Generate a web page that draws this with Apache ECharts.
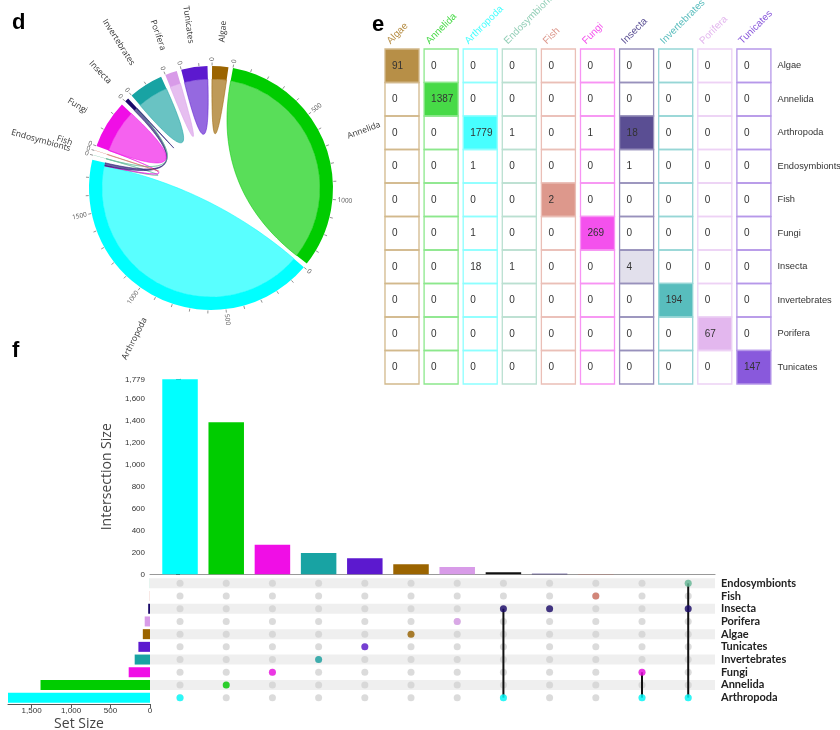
<!DOCTYPE html>
<html><head><meta charset="utf-8">
<script src="https://cdn.jsdelivr.net/npm/echarts@6/dist/echarts.min.js"></script>
<style>html,body{margin:0;padding:0;background:#fff}#c{width:840px;height:730px}</style>
</head><body><div id="c"></div>
<script>
// ---------- DATA ----------
const groups = ['Algae','Annelida','Arthropoda','Endosymbionts','Fish','Fungi','Insecta','Invertebrates','Porifera','Tunicates'];
const matrix = [
  [91,0,0,0,0,0,0,0,0,0],
  [0,1387,0,0,0,0,0,0,0,0],
  [0,0,1779,1,0,1,18,0,0,0],
  [0,0,1,0,0,0,1,0,0,0],
  [0,0,0,0,2,0,0,0,0,0],
  [0,0,1,0,0,269,0,0,0,0],
  [0,0,18,1,0,0,4,0,0,0],
  [0,0,0,0,0,0,0,194,0,0],
  [0,0,0,0,0,0,0,0,67,0],
  [0,0,0,0,0,0,0,0,0,147]
];
const groupColors = ['#9b6400','#00cc00','#00ffff','#66bb99','#d07060','#f00ee6','#1a0a6a','#18a3a3','#d89be8','#5c19cf'];

const upsetSets = ['Endosymbionts','Fish','Insecta','Porifera','Algae','Tunicates','Invertebrates','Fungi','Annelida','Arthropoda'];
const setSizes = [2,2,23,67,91,147,194,270,1387,1799];
const intersections = [['Arthropoda'],['Annelida'],['Fungi'],['Invertebrates'],['Tunicates'],['Algae'],['Porifera'],['Insecta','Arthropoda'],['Insecta'],['Fish'],['Fungi','Arthropoda'],['Endosymbionts','Insecta','Arthropoda']];
const intersectionSizes = [1779,1387,269,194,147,91,67,18,4,2,1,1];
const intersectionTicks = [0,200,400,600,800,1000,1200,1400,1600,1779];
const setSizeTicks = [0,500,1000,1500];

// ---------- HELPERS ----------
function hexRgb(h){const n=parseInt(h.slice(1),16);return [(n>>16)&255,(n>>8)&255,n&255];}
function rgba(h,a){const c=hexRgb(h);return 'rgba('+c[0]+','+c[1]+','+c[2]+','+a+')';}
function blend(h,a){const c=hexRgb(h).map(v=>Math.round(255-(255-v)*a));return 'rgb('+c.join(',')+')';}
const colorOf = name => groupColors[groups.indexOf(name)];
const fmt = v => Number(v).toLocaleString('en-US');

// ---------- CHORD LAYOUT ----------
const CX=211, CY=188, R_IN=109, R_OUT=122, GAP=2.15, START=0.5;
const totals = matrix.map(r=>r.reduce((a,b)=>a+b,0));
const grand = totals.reduce((a,b)=>a+b,0);
const degPerUnit = (360 - GAP*groups.length)/grand;
const gStart=[], gEnd=[];
(function(){let cur=START;groups.forEach((g,i)=>{gStart[i]=cur;cur+=totals[i]*degPerUnit;gEnd[i]=cur;cur+=GAP;});})();
const seg = groups.map(()=>({}));
groups.forEach((g,i)=>{let c=gStart[i];matrix[i].forEach((v,j)=>{if(v>0){seg[i][j]=[c,c+v*degPerUnit];c+=v*degPerUnit;}});});
const links=[];
for(let i=0;i<groups.length;i++)for(let j=i;j<groups.length;j++)if(matrix[i][j]>0)links.push([i,j,matrix[i][j]]);

const toRad = d => d*Math.PI/180;
function pt(th,r){const a=toRad(th-90);return [CX+r*Math.cos(a),CY+r*Math.sin(a)];}
function arcPts(t0,t1,r){const n=Math.max(2,Math.ceil(Math.abs(t1-t0))+1);const o=[];for(let k=0;k<n;k++)o.push(pt(t0+(t1-t0)*k/(n-1),r));return o;}
function quadPts(p0,p2,n){const o=[];for(let k=1;k<=n;k++){const t=k/n,a=(1-t)*(1-t),b=2*(1-t)*t,c=t*t;o.push([a*p0[0]+b*CX+c*p2[0],a*p0[1]+b*CY+c*p2[1]]);}return o;}
function ribbonPoints(i,j){
  const s=seg[i][j];let pts=arcPts(s[0],s[1],R_IN);const first=pts[0];
  if(i===j){pts=pts.concat(quadPts(pts[pts.length-1],first,40));}
  else{const t=seg[j][i];const B=arcPts(t[0],t[1],R_IN);pts=pts.concat(quadPts(pts[pts.length-1],B[0],40));pts=pts.concat(B.slice(1));pts=pts.concat(quadPts(B[B.length-1],first,40));}
  return pts;
}
function radialText(th,r,text,size,color){
  const p=pt(th,r);let t=((th%360)+360)%360;const right=t<180;
  const rot=right?(90-t):(270-t);
  return {type:'text',x:p[0],y:p[1],rotation:toRad(rot),
    style:{text:text,align:right?'left':'right',verticalAlign:'middle',fontSize:size,fontFamily:'Open Sans',fill:color}};
}

// ---------- CHART ----------
const chart = echarts.init(document.getElementById('c'),null,{renderer:'canvas',width:840,height:730});

const matrixData=[];
matrix.forEach((row,r)=>row.forEach((v,c)=>matrixData.push([c,r,v])));
const colMax = groups.map((g,c)=>Math.max(...matrix.map(r=>r[c])));

const dotAll=[];intersections.forEach((s,i)=>upsetSets.forEach((n,r)=>dotAll.push([i,r])));
const dotActive=[];intersections.forEach((s,i)=>s.forEach(n=>dotActive.push({value:[i,upsetSets.indexOf(n)],itemStyle:{color:colorOf(n)}})));
const connectors=[];intersections.forEach((s,i)=>{if(s.length>1){const rs=s.map(n=>upsetSets.indexOf(n));connectors.push([i,Math.min(...rs),Math.max(...rs)]);}});

const option={
  animation:false,
  textStyle:{fontFamily:'Liberation Sans, Arial, sans-serif'},
  graphic:[
    {type:'text',left:12,top:12,style:{text:'d',font:'bold 22px Liberation Sans',fill:'#000'}},
    {type:'text',left:372,top:14,style:{text:'e',font:'bold 22px Liberation Sans',fill:'#000'}},
    {type:'text',left:12,top:340,style:{text:'f',font:'bold 22px Liberation Sans',fill:'#000'}}
  ],
  grid:[
    {left:150,top:379.3,width:565,height:195,outerBoundsMode:'none'},
    {left:150,top:577,width:565,height:127,outerBoundsMode:'none'},
    {left:8,top:577,width:142,height:127,outerBoundsMode:'none'},
    {left:382.45,top:49,width:391,height:335,outerBoundsMode:'none'}
  ],
  xAxis:[
    {gridIndex:0,type:'value',min:-0.65,max:11.58,axisLine:{show:true,onZero:false,lineStyle:{color:'#999',width:1.2}},axisTick:{show:false},axisLabel:{show:false},splitLine:{show:false}},
    {gridIndex:1,type:'value',min:-0.65,max:11.58,show:false,splitLine:{show:false}},
    {gridIndex:2,type:'value',inverse:true,min:0,max:Math.max(...setSizes),
      axisLine:{show:true,onZero:false,lineStyle:{color:'#555'}},
      axisTick:{show:true,length:4,customValues:setSizeTicks,lineStyle:{color:'#555'}},
      axisLabel:{customValues:setSizeTicks,fontSize:8,color:'#333',margin:3,formatter:fmt},
      splitLine:{show:false},name:'Set Size',nameLocation:'middle',nameGap:13,
      nameTextStyle:{fontSize:14,color:'#444',fontFamily:'Open Sans'}},
    {gridIndex:3,type:'category',data:groups,show:false}
  ],
  yAxis:[
    {gridIndex:0,type:'value',min:0,max:1779,
      axisLine:{show:true,lineStyle:{color:'#555'}},
      axisTick:{show:true,length:4,customValues:intersectionTicks,lineStyle:{color:'#555'}},
      axisLabel:{customValues:intersectionTicks,fontSize:8,color:'#333',margin:5,formatter:fmt},
      splitLine:{show:false},name:'Intersection Size',nameLocation:'middle',nameGap:35,
      nameTextStyle:{fontSize:14,color:'#444',fontFamily:'Open Sans'}},
    {gridIndex:1,type:'category',data:upsetSets,inverse:true,position:'right',
      axisLine:{show:false},axisTick:{show:false},
      axisLabel:{interval:0,margin:6,fontSize:11,fontWeight:'bold',color:'#222',fontFamily:'Lato'}},
    {gridIndex:2,type:'category',data:upsetSets,inverse:true,show:false},
    {gridIndex:3,type:'category',data:groups,inverse:true,position:'right',
      axisLine:{show:false},axisTick:{show:false},
      axisLabel:{interval:0,margin:4,fontSize:9.3,color:'#333'}}
  ],
  series:[
    // chord ribbons
    {type:'custom',coordinateSystem:'none',silent:true,data:links.map((l,k)=>[k]),
      renderItem:function(params){
        const l=links[params.dataIndex];const i=l[0],j=l[1];
        const ci = (i===j)?i:(totals[i]<=totals[j]?i:j);
        return {type:'polygon',shape:{points:ribbonPoints(i,j)},
          style:{fill:rgba(groupColors[ci],0.65),stroke:rgba(groupColors[ci],0.75),lineWidth:0.7}};
      }},
    // chord groups (ring, ticks, labels)
    {type:'custom',coordinateSystem:'none',silent:true,data:groups.map((g,i)=>[i]),
      renderItem:function(params){
        const i=params.dataIndex;const t0=gStart[i],t1=gEnd[i];const ch=[];
        ch.push({type:'sector',shape:{cx:CX,cy:CY,r0:R_IN,r:R_OUT,startAngle:toRad(t0-90),endAngle:toRad(t1-90),clockwise:true},style:{fill:groupColors[i]}});
        for(let u=0;u<=totals[i];u+=100){
          const th=t0+u*degPerUnit;const p1=pt(th,R_OUT+0.5),p2=pt(th,R_OUT+3.5);
          ch.push({type:'line',shape:{x1:p1[0],y1:p1[1],x2:p2[0],y2:p2[1]},style:{stroke:'#666',lineWidth:0.7}});
          if(u%500===0)ch.push(radialText(th,R_OUT+5,String(u),6.5,'#555'));
        }
        ch.push(radialText((t0+t1)/2,146,groups[i],8.5,'#333'));
        return {type:'group',children:ch};
      }},
    // matrix cells
    {type:'custom',xAxisIndex:3,yAxisIndex:3,silent:true,data:matrixData,
      renderItem:function(params,api){
        const c=api.value(0),r=api.value(1),v=api.value(2);
        const p=api.coord([c,r]);const sz=api.size([1,1]);
        const w=sz[0]*0.87,h=sz[1];
        let inten=(v-1)/(colMax[c]-1);if(!isFinite(inten)||inten<0)inten=0;if(inten>1)inten=1;
        return {type:'group',children:[
          {type:'rect',shape:{x:p[0]-w/2,y:p[1]-h/2,width:w,height:h},
            style:{fill:rgba(groupColors[c],0.72*inten),stroke:blend(groupColors[c],0.45),lineWidth:1.3}},
          {type:'text',x:p[0]-w/2+7,y:p[1],style:{text:String(v),fill:'#333',fontSize:10,fontFamily:'Liberation Sans',align:'left',verticalAlign:'middle'}}
        ]};
      }},
    // matrix column headers
    {type:'custom',xAxisIndex:3,yAxisIndex:3,silent:true,data:groups.map((g,i)=>[i,0]),
      renderItem:function(params,api){
        const i=params.dataIndex;const p=api.coord([i,0]);const sz=api.size([1,1]);
        return {type:'text',x:p[0]-sz[0]*0.435+7,y:p[1]-sz[1]/2-3,rotation:toRad(45),
          style:{text:groups[i],fill:blend(groupColors[i],0.72),fontSize:10,fontFamily:'Liberation Sans',align:'left',verticalAlign:'bottom'}};
      }},
    // intersection bars
    {type:'bar',xAxisIndex:0,yAxisIndex:0,barWidth:35.5,silent:true,
      data:intersectionSizes.map((v,i)=>({value:[i,v],itemStyle:{color:intersections[i].length===1?colorOf(intersections[i][0]):'#111111'}}))},
    // stripes
    {type:'custom',xAxisIndex:1,yAxisIndex:1,silent:true,z:1,data:upsetSets.map((n,r)=>[0,r]).filter(d=>d[1]%2===0),
      renderItem:function(params,api){
        const p=api.coord([0,api.value(1)]);
        return {type:'rect',shape:{x:params.coordSys.x,y:p[1]-5,width:params.coordSys.width,height:10},style:{fill:'#efefef'}};
      }},
    // inactive dots
    {type:'scatter',xAxisIndex:1,yAxisIndex:1,silent:true,z:2,symbolSize:7,itemStyle:{color:'#d2d2d2'},data:dotAll},
    // connectors
    {type:'custom',xAxisIndex:1,yAxisIndex:1,silent:true,z:3,data:connectors,
      renderItem:function(params,api){
        const a=api.coord([api.value(0),api.value(1)]),b=api.coord([api.value(0),api.value(2)]);
        return {type:'line',shape:{x1:a[0],y1:a[1],x2:b[0],y2:b[1]},style:{stroke:'#111',lineWidth:2}};
      }},
    // active dots
    {type:'scatter',xAxisIndex:1,yAxisIndex:1,silent:true,z:4,symbolSize:7,data:dotActive},
    // set size bars
    {type:'bar',xAxisIndex:2,yAxisIndex:2,barWidth:10,silent:true,
      data:setSizes.map((v,r)=>({value:v,itemStyle:{color:colorOf(upsetSets[r])}}))}
  ]
};
chart.setOption(option);
</script></body></html>
